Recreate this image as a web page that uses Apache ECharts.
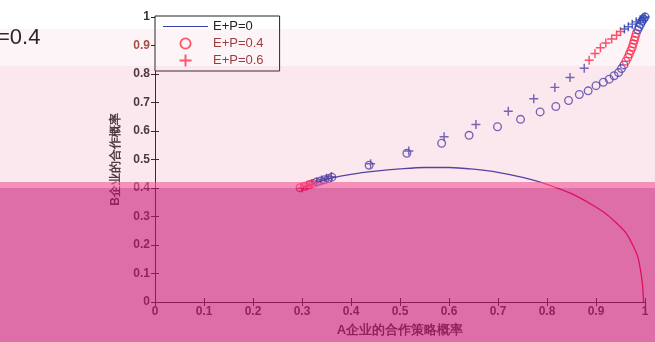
<!DOCTYPE html>
<html><head><meta charset="utf-8">
<script src="https://cdn.jsdelivr.net/npm/echarts@6/dist/echarts.min.js"></script>
<style>html,body{margin:0;padding:0;background:#fff;}#c{width:655px;height:342px;}</style>
</head><body><div id="c"></div>
<script>
// ---- data ----
const seriesNames = ['E+P=0', 'E+P=0.4', 'E+P=0.6'];
const xTicks = [0,0.1,0.2,0.3,0.4,0.5,0.6,0.7,0.8,0.9,1];
const yTicks = [0,0.1,0.2,0.3,0.4,0.5,0.6,0.7,0.8,0.9,1];

const lineX = [0.30,0.33,0.36,0.40,0.45,0.50,0.55,0.60,0.65,0.70,0.75,0.80,0.85,0.89,0.92,0.94,0.96,0.975,0.985,0.99,0.995,0.997];
const lineY = [0.400,0.420,0.435,0.448,0.459,0.467,0.472,0.472,0.466,0.455,0.437,0.413,0.380,0.343,0.310,0.280,0.245,0.200,0.160,0.120,0.060,0.000];

const circX = [0.296,0.305,0.314,0.322,0.330,0.338,0.346,0.354,0.361,0.437,0.514,0.585,0.641,0.699,0.746,0.786,0.818,0.844,0.866,0.884,0.900,0.915,0.927,0.937,0.946,0.952,0.957,0.961,0.965,0.968,0.971,0.974,0.976,0.978,0.980,0.982,0.985,0.988,0.991,0.994,0.997,1.0];
const circY = [0.401,0.406,0.411,0.416,0.421,0.425,0.429,0.433,0.438,0.480,0.522,0.557,0.585,0.615,0.641,0.667,0.686,0.707,0.728,0.741,0.759,0.771,0.782,0.794,0.805,0.819,0.832,0.845,0.858,0.870,0.882,0.894,0.906,0.918,0.930,0.942,0.955,0.965,0.975,0.985,0.993,1.0];

const plusX = [0.300,0.310,0.320,0.330,0.340,0.350,0.360,0.440,0.518,0.590,0.655,0.721,0.773,0.816,0.847,0.876,0.886,0.898,0.909,0.920,0.932,0.942,0.950,0.958,0.966,0.974,0.982,0.990,0.996,1.0];
const plusY = [0.400,0.407,0.414,0.421,0.428,0.434,0.440,0.485,0.530,0.580,0.623,0.669,0.713,0.753,0.788,0.820,0.848,0.872,0.892,0.909,0.923,0.936,0.949,0.958,0.966,0.975,0.983,0.990,0.996,1.0];

const zip = (a, b) => a.map((v, i) => [v, b[i]]);

const ring = 'path://M5,0A5,5 0 1 1 5,10A5,5 0 1 1 5,0Z M5,1.5A3.5,3.5 0 1 0 5,8.5A3.5,3.5 0 1 0 5,1.5Z';
const plus = 'path://M4.2,0H5.8V4.2H10V5.8H5.8V10H4.2V5.8H0V4.2H4.2Z';
const FONT = 'Liberation Sans';

const chart = echarts.init(document.getElementById('c'), null, {renderer: 'canvas'});
const axisCommon = {
  type: 'value', min: 0, max: 1, interval: 0.1,
  splitLine: {show: false},
  axisLine: {show: true, lineStyle: {color: '#222', width: 1}},
  axisTick: {show: true, inside: true, length: 4, lineStyle: {color: '#222'}}
};
chart.setOption({
  animation: false,
  backgroundColor: '#fff',
  grid: {left: 155, right: 10, top: 17, bottom: 36},
  xAxis: [
    Object.assign({}, axisCommon, {
      position: 'bottom',
      name: 'A企业的合作策略概率', nameLocation: 'middle', nameGap: 22,
      nameTextStyle: {fontFamily: FONT, fontSize: 13, fontWeight: 'bold', color: '#333'},
      axisLabel: {fontFamily: FONT, fontSize: 12, fontWeight: 'bold', color: '#333', margin: 4,
        formatter: v => String(+v.toFixed(1))}
    }),
    Object.assign({}, axisCommon, {position: 'top', axisLabel: {show: false}})
  ],
  yAxis: [
    Object.assign({}, axisCommon, {
      position: 'left',
      name: 'B企业的合作概率', nameLocation: 'middle', nameGap: 33,
      nameTextStyle: {fontFamily: FONT, fontSize: 12, fontWeight: 'bold', color: '#333'},
      axisLabel: {fontFamily: FONT, fontSize: 12, fontWeight: 'bold', margin: 5,
        formatter: v => String(+v.toFixed(1)),
        color: v => (Math.abs(v - 0.9) < 1e-6 ? '#a0503c' : '#333')}
    }),
    Object.assign({}, axisCommon, {position: 'right', axisLabel: {show: false}})
  ],
  legend: {
    orient: 'vertical', left: 155, top: 16,
    itemWidth: 45, itemHeight: 12, itemGap: 4,
    padding: [4, 16, 4, 8],
    borderColor: '#222', borderWidth: 1, borderRadius: 0,
    backgroundColor: '#fff',
    textStyle: {fontFamily: FONT, fontSize: 13, color: '#222'},
    data: [
      {name: seriesNames[0], icon: 'path://M0,4.4H45V5.6H0Z', itemStyle: {color: '#3a3aa8'}},
      {name: seriesNames[1], itemStyle: {color: '#ff2a3a'}, textStyle: {color: '#9a3a3a'}},
      {name: seriesNames[2], itemStyle: {color: '#ff2a3a'}, textStyle: {color: '#9a3a3a'}}
    ]
  },
  visualMap: {
    type: 'piecewise', show: false, dimension: 1, seriesIndex: [0, 1, 2],
    pieces: [
      {lt: 0.418, color: '#ff002b'},
      {gte: 0.418, lt: 0.84, color: '#3c3ca8'},
      {gte: 0.84, lt: 0.955, color: '#ff2244'},
      {gte: 0.955, color: '#2a3fb0'}
    ]
  },
  series: [
    {name: seriesNames[0], type: 'line', data: zip(lineX, lineY), showSymbol: false, symbol: 'none',
     smooth: 0.3, lineStyle: {width: 1.3}, z: 3},
    {name: seriesNames[1], type: 'scatter', data: zip(circX, circY), symbol: ring, symbolSize: 9, z: 4},
    {name: seriesNames[2], type: 'scatter', data: zip(plusX, plusY), symbol: plus, symbolSize: 9, z: 5}
  ],
  graphic: [
    {type: 'text', left: -3, top: 27, z: 50, silent: true,
     style: {text: '=0.4', fontFamily: FONT, fontSize: 22, fill: '#222'}},
    {type: 'rect', shape: {x: 0, y: 29, width: 655, height: 37}, z: 100, silent: true,
     style: {fill: 'rgba(230,100,150,0.07)'}},
    {type: 'rect', shape: {x: 0, y: 66, width: 655, height: 116}, z: 100, silent: true,
     style: {fill: 'rgba(230,100,150,0.15)'}},
    {type: 'rect', shape: {x: 0, y: 182, width: 655, height: 6}, z: 100, silent: true,
     style: {fill: 'rgba(240,90,150,0.67)'}},
    {type: 'rect', shape: {x: 0, y: 188, width: 655, height: 154}, z: 100, silent: true,
     style: {fill: 'rgba(203,25,117,0.63)'}}
  ]
});
</script>
</body></html>
